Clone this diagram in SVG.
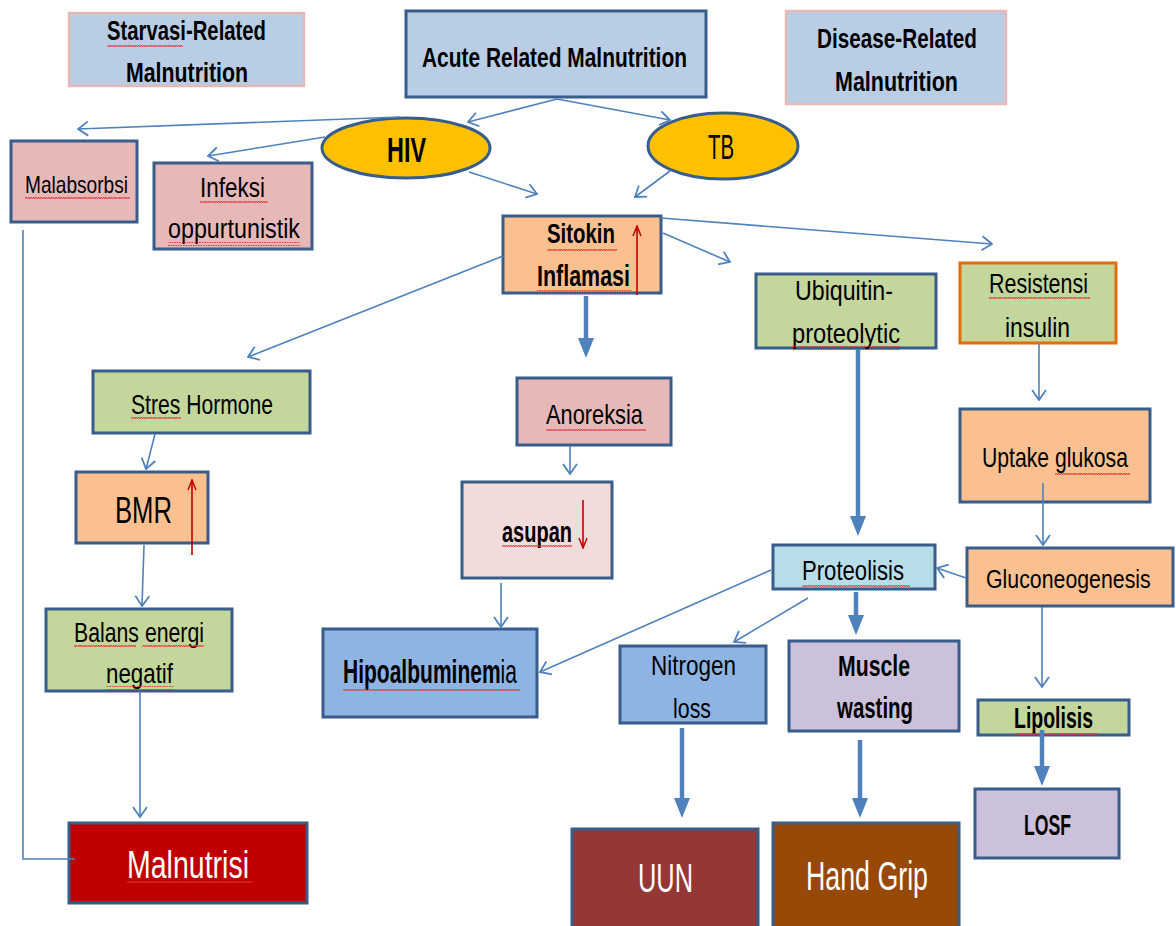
<svg xmlns="http://www.w3.org/2000/svg" width="1176" height="926" viewBox="0 0 1176 926">
<style>
.box{stroke:#385d8a;stroke-width:3}
.pk{stroke:#e6b9b8;stroke-width:2.5}
.lb{fill:#b9cde5}.pn{fill:#e6b9b8}.or{fill:#fac090}.gr{fill:#c3d69b}.pp{fill:#f2dcdb}.bl{fill:#8eb4e3}.pu{fill:#ccc1da}.cy{fill:#b7dee8}
.t{font-family:"Liberation Sans",Arial,sans-serif;fill:#000}
.b{font-weight:bold}
.w{fill:#fff}
.c{fill:none;stroke:#4f81bd;stroke-width:1.6}
.k{fill:none;stroke:#4f81bd;stroke-width:4.5}
.r{fill:none;stroke:#c00000;stroke-width:1.6}
.sq{fill:url(#squig)}
</style>
<defs>
<marker id="oa" viewBox="0 0 12 16" refX="11" refY="8" markerWidth="12" markerHeight="16" markerUnits="userSpaceOnUse" orient="auto">
<path d="M1,1 L11,8 L1,15" fill="none" stroke="#4f81bd" stroke-width="1.8"/>
</marker>
<marker id="fa" viewBox="0 0 20 16" refX="14" refY="8" markerWidth="20" markerHeight="16" markerUnits="userSpaceOnUse" orient="auto">
<path d="M0,0 L20,8 L0,16 Z" fill="#4f81bd"/>
</marker>
<marker id="ra" viewBox="0 0 12 10" refX="11" refY="5" markerWidth="12" markerHeight="10" markerUnits="userSpaceOnUse" orient="auto">
<path d="M1,1 L11,5 L1,9" fill="none" stroke="#c00000" stroke-width="1.5"/>
</marker>
<pattern id="squig" width="5" height="4" patternUnits="userSpaceOnUse">
<path d="M0,3 L1.25,1 L2.5,3 L3.75,1 L5,3" fill="none" stroke="#e03030" stroke-width="0.9"/>
</pattern>
</defs>
<rect width="1176" height="926" fill="#fff"/>

<g id="n-starvasi">
<rect x="69" y="13" width="235" height="73" class="lb pk"/>
<text class="t b" x="107" y="40" font-size="27" textLength="159" lengthAdjust="spacingAndGlyphs">Starvasi-Related</text>
<text class="t b" x="126" y="82" font-size="27" textLength="122" lengthAdjust="spacingAndGlyphs">Malnutrition</text>
</g>
<g id="n-acute">
<rect x="406" y="11" width="300" height="86" class="lb box"/>
<text class="t b" x="422" y="67" font-size="27" textLength="265" lengthAdjust="spacingAndGlyphs">Acute Related Malnutrition</text>
</g>
<g id="n-disease">
<rect x="786" y="11" width="220" height="93" class="lb pk"/>
<text class="t b" x="817" y="48" font-size="28" textLength="160" lengthAdjust="spacingAndGlyphs">Disease-Related</text>
<text class="t b" x="835" y="91" font-size="28" textLength="123" lengthAdjust="spacingAndGlyphs">Malnutrition</text>
</g>
<g id="n-hiv">
<ellipse cx="406" cy="148" rx="84" ry="30" fill="#ffc000" class="box"/>
<text class="t b" x="387" y="162" font-size="35" textLength="39" lengthAdjust="spacingAndGlyphs">HIV</text>
</g>
<g id="n-tb">
<ellipse cx="723" cy="146" rx="75" ry="33" fill="#ffc000" class="box"/>
<text class="t" x="708" y="159" font-size="35" textLength="26" lengthAdjust="spacingAndGlyphs">TB</text>
</g>
<g id="n-malabsorbsi">
<rect x="11" y="141" width="126" height="81" class="pn box"/>
<text class="t" x="25" y="193" font-size="24" textLength="103" lengthAdjust="spacingAndGlyphs">Malabsorbsi</text>
</g>
<g id="n-infeksi">
<rect x="154" y="163" width="158" height="86" class="pn box"/>
<text class="t" x="200" y="197" font-size="27" textLength="65" lengthAdjust="spacingAndGlyphs">Infeksi</text>
<text class="t" x="168" y="238" font-size="27" textLength="132" lengthAdjust="spacingAndGlyphs">oppurtunistik</text>
</g>
<g id="n-sitokin">
<rect x="503" y="216" width="158" height="77" class="or box"/>
<text class="t b" x="547" y="243" font-size="28" textLength="68" lengthAdjust="spacingAndGlyphs">Sitokin</text>
<text class="t b" x="537" y="286" font-size="29" textLength="93" lengthAdjust="spacingAndGlyphs">Inflamasi</text>
</g>
<g id="n-ubiquitin">
<rect x="756" y="274" width="180" height="74" class="gr box"/>
<text class="t" x="795" y="300" font-size="28" textLength="98" lengthAdjust="spacingAndGlyphs">Ubiquitin-</text>
<text class="t" x="792" y="343" font-size="28" textLength="108" lengthAdjust="spacingAndGlyphs">proteolytic</text>
</g>
<g id="n-resistensi">
<rect x="960" y="263" width="156" height="80" class="gr" stroke="#e46c0a" stroke-width="3"/>
<text class="t" x="989" y="293" font-size="28" textLength="99" lengthAdjust="spacingAndGlyphs">Resistensi</text>
<text class="t" x="1005" y="337" font-size="28" textLength="65" lengthAdjust="spacingAndGlyphs">insulin</text>
</g>
<g id="n-stres">
<rect x="93" y="371" width="217" height="62" class="gr box"/>
<text class="t" x="131" y="414" font-size="28" textLength="142" lengthAdjust="spacingAndGlyphs">Stres Hormone</text>
</g>
<g id="n-anoreksia">
<rect x="517" y="378" width="154" height="67" class="pn box"/>
<text class="t" x="546" y="424" font-size="28" textLength="97" lengthAdjust="spacingAndGlyphs">Anoreksia</text>
</g>
<g id="n-uptake">
<rect x="960" y="409" width="190" height="93" class="or box"/>
<text class="t" x="982" y="467" font-size="28" textLength="146" lengthAdjust="spacingAndGlyphs">Uptake glukosa</text>
</g>
<g id="n-bmr">
<rect x="76" y="472" width="132" height="71" class="or box"/>
<text class="t" x="115" y="523" font-size="36" textLength="57" lengthAdjust="spacingAndGlyphs">BMR</text>
</g>
<g id="n-asupan">
<rect x="462" y="482" width="150" height="96" class="pp box"/>
<text class="t b" x="502" y="542" font-size="30" textLength="70" lengthAdjust="spacingAndGlyphs">asupan</text>
</g>
<g id="n-proteolisis">
<rect x="773" y="545" width="162" height="44" class="cy box"/>
<text class="t" x="802" y="580" font-size="28" textLength="102" lengthAdjust="spacingAndGlyphs">Proteolisis</text>
</g>
<g id="n-gluconeogenesis">
<rect x="967" y="548" width="206" height="58" class="or box"/>
<text class="t" transform="translate(986,588) scale(0.82,1)" font-size="26">Gluconeogenesis</text>
</g>
<g id="n-balans">
<rect x="46" y="609" width="186" height="82" class="gr box"/>
<text class="t" x="74" y="642" font-size="27" textLength="130" lengthAdjust="spacingAndGlyphs">Balans energi</text>
<text class="t" x="106" y="683" font-size="27" textLength="67" lengthAdjust="spacingAndGlyphs">negatif</text>
</g>
<g id="n-hipoalbuminemia">
<rect x="323" y="629" width="214" height="88" class="bl box"/>
<text class="t" transform="translate(343,683) scale(0.637,1)" font-size="33"><tspan class="b">Hipoalbuminem</tspan>ia</text>
</g>
<g id="n-nitrogen">
<rect x="620" y="646" width="146" height="77" class="bl box"/>
<text class="t" x="651" y="675" font-size="28" textLength="85" lengthAdjust="spacingAndGlyphs">Nitrogen</text>
<text class="t" x="673" y="718" font-size="28" textLength="38" lengthAdjust="spacingAndGlyphs">loss</text>
</g>
<g id="n-muscle">
<rect x="789" y="641" width="170" height="90" class="pu box"/>
<text class="t b" x="838" y="676" font-size="29" textLength="72" lengthAdjust="spacingAndGlyphs">Muscle</text>
<text class="t b" x="837" y="718" font-size="29" textLength="76" lengthAdjust="spacingAndGlyphs">wasting</text>
</g>
<g id="n-lipolisis">
<rect x="978" y="700" width="151" height="35" class="gr box"/>
<text class="t b" x="1014" y="728" font-size="29" textLength="79" lengthAdjust="spacingAndGlyphs">Lipolisis</text>
</g>
<g id="n-losf">
<rect x="975" y="789" width="144" height="69" class="pu box"/>
<text class="t b" x="1024" y="835" font-size="30" textLength="47" lengthAdjust="spacingAndGlyphs">LOSF</text>
</g>
<g id="n-malnutrisi">
<rect x="69" y="823" width="238" height="80" fill="#c00000" class="box"/>
<text class="t w" x="127" y="878" font-size="38" textLength="122" lengthAdjust="spacingAndGlyphs">Malnutrisi</text>
</g>
<g id="n-uun">
<rect x="572" y="829" width="186" height="100" fill="#953735" class="box"/>
<text class="t w" x="638" y="892" font-size="40" textLength="55" lengthAdjust="spacingAndGlyphs">UUN</text>
</g>
<g id="n-handgrip">
<rect x="773" y="823" width="186" height="106" fill="#984807" class="box"/>
<text class="t w" x="806" y="890" font-size="40" textLength="122" lengthAdjust="spacingAndGlyphs">Hand Grip</text>
</g>

<g id="spellcheck">
<rect class="sq" x="107" y="43" width="76" height="4"/>
<rect class="sq" x="25" y="196" width="105" height="4"/>
<rect class="sq" x="200" y="200" width="68" height="4"/>
<rect class="sq" x="168" y="242" width="132" height="4"/>
<rect class="sq" x="547" y="247" width="70" height="4"/>
<rect class="sq" x="537" y="290" width="95" height="4"/>
<rect class="sq" x="792" y="346" width="108" height="4"/>
<rect class="sq" x="989" y="296" width="101" height="4"/>
<rect class="sq" x="131" y="417" width="50" height="4"/>
<rect class="sq" x="546" y="427" width="100" height="4"/>
<rect class="sq" x="1055" y="472" width="75" height="4"/>
<rect class="sq" x="502" y="545" width="70" height="4"/>
<rect class="sq" x="74" y="645" width="62" height="4"/>
<rect class="sq" x="142" y="645" width="62" height="4"/>
<rect class="sq" x="106" y="686" width="68" height="4"/>
<rect class="sq" x="343" y="687" width="177" height="4"/>
<rect class="sq" x="802" y="583" width="108" height="4"/>
<rect class="sq" x="1014" y="732" width="84" height="4"/>
<rect class="sq" x="127" y="881" width="125" height="4"/>
</g>

<g id="connectors">
<path class="c" marker-end="url(#oa)" d="M557,99 L468,122"/>
<path class="c" marker-end="url(#oa)" d="M557,99 L670,120"/>
<path class="c" marker-end="url(#oa)" d="M400,117 L78,129"/>
<path class="c" marker-end="url(#oa)" d="M325,137 L208,156"/>
<path class="c" marker-end="url(#oa)" d="M469,172 L537,194"/>
<path class="c" marker-end="url(#oa)" d="M670,171 L635,197"/>
<path class="c" marker-end="url(#oa)" d="M661,218 L992,244"/>
<path class="c" marker-end="url(#oa)" d="M663,233 L730,262"/>
<path class="c" marker-end="url(#oa)" d="M503,256 L248,357"/>
<path class="c" marker-end="url(#oa)" d="M1039,344 L1039,400"/>
<path class="c" marker-end="url(#oa)" d="M1043,483 L1043,545"/>
<path class="c" marker-end="url(#oa)" d="M966,578 L937,568"/>
<path class="c" marker-end="url(#oa)" d="M1042,607 L1042,687"/>
<path class="c" marker-end="url(#oa)" d="M771,570 L540,672"/>
<path class="c" marker-end="url(#oa)" d="M808,598 L734,642"/>
<path class="c" marker-end="url(#oa)" d="M155,434 L146,469"/>
<path class="c" marker-end="url(#oa)" d="M144,545 L142,606"/>
<path class="c" marker-end="url(#oa)" d="M140,691 L140,817"/>
<path class="c" marker-end="url(#oa)" d="M570,446 L570,474"/>
<path class="c" marker-end="url(#oa)" d="M501,583 L501,627"/>
<path class="c" d="M23,230 L23,859 L75,859"/>
<path class="k" marker-end="url(#fa)" d="M586,296 L586,352"/>
<path class="k" marker-end="url(#fa)" d="M858,349 L858,530"/>
<path class="k" marker-end="url(#fa)" d="M856,592 L856,629"/>
<path class="k" marker-end="url(#fa)" d="M682,728 L682,812"/>
<path class="k" marker-end="url(#fa)" d="M860,740 L860,812"/>
<path class="k" marker-end="url(#fa)" d="M1042,730 L1042,780"/>
<path class="r" marker-end="url(#ra)" d="M637,295 L637,226"/>
<path class="r" marker-end="url(#ra)" d="M192,555 L192,480"/>
<path class="r" marker-end="url(#ra)" d="M583,500 L583,548"/>
</g>
</svg>
